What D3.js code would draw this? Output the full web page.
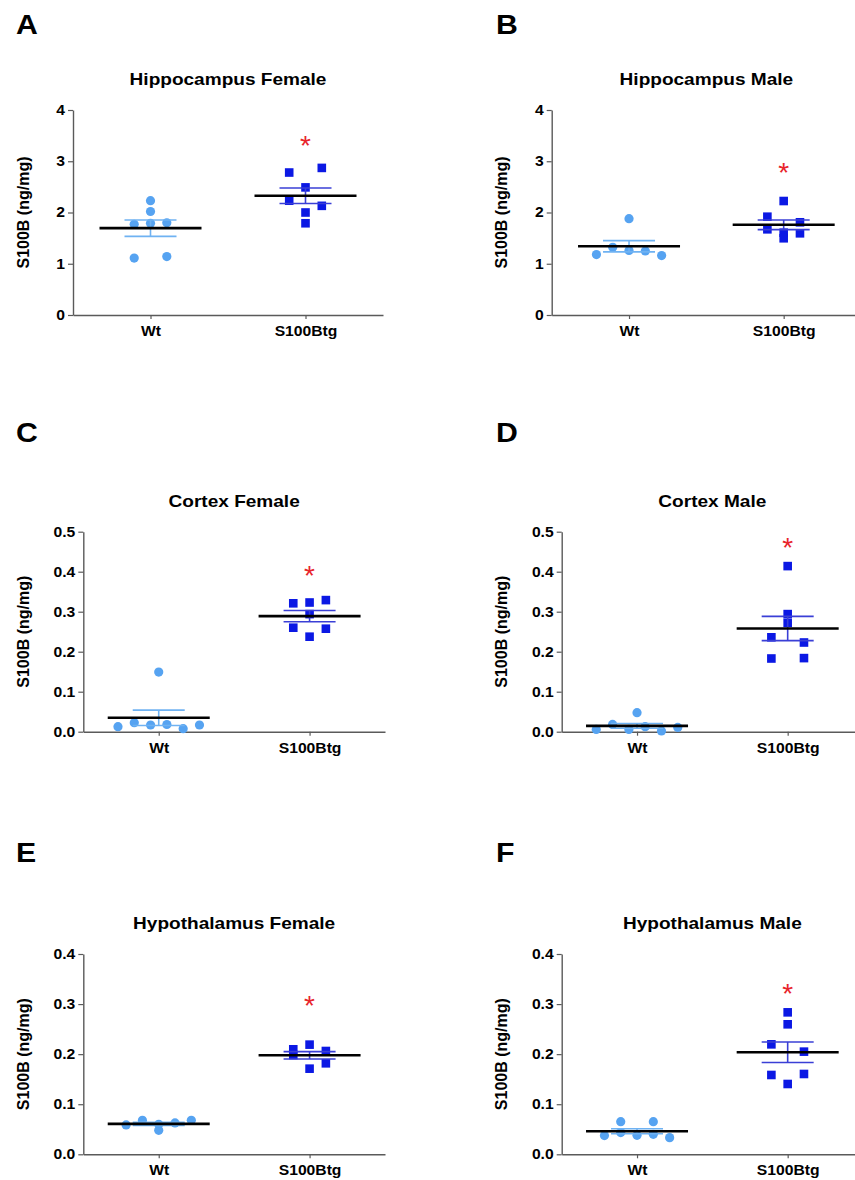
<!DOCTYPE html>
<html>
<head>
<meta charset="utf-8">
<script src="https://cdn.jsdelivr.net/npm/d3@7"></script>
<style>
  body { margin: 0; background: #fff; }
  text { font-family: Arial, 'Liberation Sans', sans-serif; }
</style>
</head>
<body>
<div id="fig"></div>
<script>
// ---- data ----
var letters = ['A', 'B', 'C', 'D', 'E', 'F']
var titles = ['Hippocampus Female', 'Hippocampus Male', 'Cortex Female', 'Cortex Male',
  'Hypothalamus Female', 'Hypothalamus Male']
var groups = ['Wt', 'S100Btg']
var yLabel = 'S100B (ng/mg)'
var yMax = [4, 4, 0.5, 0.5, 0.4, 0.4]
var yTicks = [
  [0, 1, 2, 3, 4], [0, 1, 2, 3, 4],
  [0, 0.1, 0.2, 0.3, 0.4, 0.5], [0, 0.1, 0.2, 0.3, 0.4, 0.5],
  [0, 0.1, 0.2, 0.3, 0.4], [0, 0.1, 0.2, 0.3, 0.4]
]
var tickFormat = ['d', 'd', '.1f', '.1f', '.1f', '.1f']

var wtValues = [
  [2.02, 2.23, 1.77, 1.79, 1.80, 1.11, 1.14],
  [1.18, 1.32, 1.26, 1.25, 1.16, 1.88],
  [0.0125, 0.0225, 0.0167, 0.018, 0.0075, 0.0167, 0.149],
  [0.0058, 0.0183, 0.0058, 0.0125, 0.0017, 0.0108, 0.0475],
  [0.0586, 0.0679, 0.0599, 0.0626, 0.0679, 0.0479],
  [0.0652, 0.0652, 0.0373, 0.0433, 0.0379, 0.0399, 0.0333]
]
var tgValues = [
  [2.78, 2.87, 2.49, 2.23, 2.13, 2.00, 1.79],
  [2.224, 1.918, 1.809, 1.672, 1.606, 1.594, 1.497],
  [0.321, 0.323, 0.329, 0.294, 0.26, 0.2575, 0.2375],
  [0.414, 0.294, 0.272, 0.236, 0.223, 0.183, 0.184],
  [0.2097, 0.219, 0.2063, 0.1983, 0.1817, 0.171],
  [0.2835, 0.2596, 0.2196, 0.205, 0.1584, 0.1604, 0.1404]
]
// height of the significance star, in data units
var starValues = [3.43, 2.91, 0.406, 0.4775, 0.31, 0.335]

// ---- layout ----
var frames = [
  { l: 73, r: 383, t: 110, b: 315 },
  { l: 551.7, r: 861, t: 110, b: 315 },
  { l: 83.3, r: 385, t: 531.7, b: 731.7 },
  { l: 561.7, r: 863, t: 531.7, b: 731.7 },
  { l: 83.3, r: 385, t: 954, b: 1154.3 },
  { l: 561.7, r: 863, t: 954, b: 1154.3 }
]
var letterX = [16, 496]
var letterY = [34, 442, 862]
var yLabelX = [29, 507]
var WIDEN = 1.12 // the figure's lettering is a little wider than plain Arial

var COLOR = {
  WT: '#56a3f1',
  WT_ERR: '#6fb2f2',
  TG: '#0b18e4',
  TG_ERR: '#3a3fd6',
  AXIS: '#5a5a5a',
  STAR: '#e8242b'
}

var svg = d3.select('#fig')
  .append('svg')
  .attr('width', 855)
  .attr('height', 1180)

svg.append('rect').attr('width', 855).attr('height', 1180).attr('fill', '#fff')

// spread points that sit on about the same level side by side
function swarm(vals, y, gap, step) {
  var order = d3.range(vals.length).sort((a, b) => d3.descending(vals[a], vals[b]))
  var rows = []
  var cur = null
  order.forEach(i => {
    if (cur && y(vals[i]) - y(vals[cur[0]]) < gap) cur.push(i)
    else { cur = [i]; rows.push(cur) }
  })
  var off = new Array(vals.length)
  rows.forEach(r => {
    r.sort(d3.ascending)
    var n = r.length
    r.forEach((i, k) => {
      off[i] = n === 2 ? (k ? step : -step) : (k - (n - 1) / 2) * step
    })
  })
  return off
}

for (var p = 0; p < 6; p++) {
  var f = frames[p]
  var col = p % 2
  var row = Math.floor(p / 2)
  var g = svg.append('g')

  var x = d3.scalePoint().domain(groups).range([f.l, f.r]).padding(0.5)
  var y = d3.scaleLinear().domain([0, yMax[p]]).range([f.b, f.t])

  // panel letter
  g.append('text')
    .attr('class', 'wide')
    .attr('x', letterX[col])
    .attr('y', letterY[row])
    .text(letters[p])
    .attr('font-size', 27)
    .attr('font-weight', 'bold')
    .attr('fill', '#000')

  // title
  g.append('text')
    .attr('class', 'wide')
    .attr('x', (x(groups[0]) + x(groups[1])) / 2)
    .attr('y', f.t - 24.7)
    .text(titles[p])
    .attr('text-anchor', 'middle')
    .attr('font-size', 17)
    .attr('font-weight', 'bold')
    .attr('fill', '#000')

  // y label
  g.append('text')
    .attr('transform', 'translate(' + yLabelX[col] + ',' + ((f.t + f.b) / 2) + ') rotate(-90)')
    .text(yLabel)
    .attr('text-anchor', 'middle')
    .attr('font-size', 16)
    .attr('font-weight', 'bold')
    .attr('fill', '#000')

  // axes
  var ya = g.append('g')
    .attr('transform', 'translate(' + f.l + ',0)')
    .call(d3.axisLeft(y).tickValues(yTicks[p]).tickSize(5).tickSizeOuter(0)
      .tickPadding(3).tickFormat(d3.format(tickFormat[p])))
  var xa = g.append('g')
    .attr('transform', 'translate(0,' + f.b + ')')
    .call(d3.axisBottom(x).tickSize(4).tickSizeOuter(0).tickPadding(7))
  ;[ya, xa].forEach(a => {
    a.select('.domain').attr('stroke', COLOR.AXIS).attr('stroke-width', 1.4)
    a.selectAll('.tick line').attr('stroke', COLOR.AXIS).attr('stroke-width', 1.2)
    a.selectAll('.tick text')
      .attr('class', 'wide')
      .attr('font-size', 14)
      .attr('font-weight', 'bold')
      .attr('font-family', "Arial, 'Liberation Sans', sans-serif")
      .attr('fill', '#000')
  })

  var sets = [wtValues[p], tgValues[p]]
  sets.forEach((vals, k) => {
    var cx = x(groups[k])
    var off = swarm(vals, y, 8.5, 16.3)

    if (k === 0) {
      g.selectAll('.wt-dot-' + p)
        .data(vals)
        .enter()
        .append('circle')
        .attr('cx', (d, i) => cx + off[i])
        .attr('cy', d => y(d))
        .attr('r', 4.6)
        .attr('fill', COLOR.WT)
    } else {
      g.selectAll('.tg-dot-' + p)
        .data(vals)
        .enter()
        .append('rect')
        .attr('x', (d, i) => cx + off[i] - 4.3)
        .attr('y', d => y(d) - 4.3)
        .attr('width', 8.6)
        .attr('height', 8.6)
        .attr('fill', COLOR.TG)
    }

    // mean +- SEM
    var mean = d3.mean(vals)
    var sem = d3.deviation(vals) / Math.sqrt(vals.length)
    var ec = k === 0 ? COLOR.WT_ERR : COLOR.TG_ERR
    ;[mean + sem, mean - sem].forEach(v => {
      g.append('line')
        .attr('x1', cx - 26).attr('x2', cx + 26)
        .attr('y1', y(v)).attr('y2', y(v))
        .attr('stroke', ec).attr('stroke-width', 1.6)
    })
    g.append('line')
      .attr('x1', cx).attr('x2', cx)
      .attr('y1', y(mean + sem)).attr('y2', y(mean - sem))
      .attr('stroke', ec).attr('stroke-width', 1.6)
    g.append('line')
      .attr('x1', cx - 51).attr('x2', cx + 51)
      .attr('y1', y(mean)).attr('y2', y(mean))
      .attr('stroke', '#000').attr('stroke-width', 2.6)
  })

  // significance star
  g.append('text')
    .attr('x', x(groups[1]))
    .attr('y', y(starValues[p]))
    .attr('dy', '0.57em')
    .text('*')
    .attr('text-anchor', 'middle')
    .attr('font-size', 28)
    .attr('fill', COLOR.STAR)
}

// widen the horizontal lettering to the figure's proportions
svg.selectAll('text.wide').each(function () {
  var w = this.getComputedTextLength()
  d3.select(this)
    .attr('textLength', w * WIDEN)
    .attr('lengthAdjust', 'spacingAndGlyphs')
})
</script>
</body>
</html>
